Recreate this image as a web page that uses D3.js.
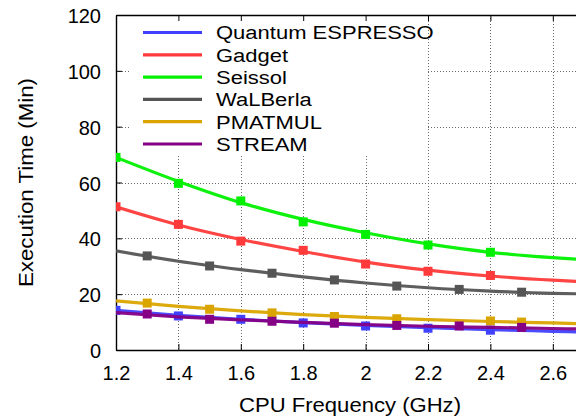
<!DOCTYPE html>
<html>
<head>
<meta charset="utf-8">
<script src="https://cdn.jsdelivr.net/npm/d3@7/dist/d3.min.js"></script>
<style>
  html, body { margin: 0; padding: 0; background: #fff; }
  svg { display: block; }
  text { font-family: "Liberation Sans", Arial, Helvetica, sans-serif; fill: #000; }
</style>
</head>
<body>
<svg id="chart" width="576" height="418"></svg>
<script>
// Axis ticks
const xTicks = [1.2, 1.4, 1.6, 1.8, 2.0, 2.2, 2.4, 2.6];
const yTicks = [0, 20, 40, 60, 80, 100, 120];

// Measured execution times (minutes) per CPU frequency (GHz)
const qeFreq = [1.2, 1.4, 1.6, 1.8, 2.0, 2.2, 2.4];
const qeTime = [14.2, 12.2, 11.0, 9.7, 8.6, 7.8, 7.1];

const gadgetFreq = [1.2, 1.4, 1.6, 1.8, 2.0, 2.2, 2.4];
const gadgetTime = [51.3, 45.0, 39.0, 35.7, 30.8, 28.2, 26.7];

const seissolFreq = [1.2, 1.4, 1.6, 1.8, 2.0, 2.2, 2.4];
const seissolTime = [69.0, 59.7, 53.4, 45.9, 41.4, 37.6, 35.0];

const walberlaFreq = [1.3, 1.5, 1.7, 1.9, 2.1, 2.3, 2.5];
const walberlaTime = [33.7, 30.1, 27.5, 25.1, 22.9, 21.7, 20.7];

const pmatmulFreq = [1.3, 1.5, 1.7, 1.9, 2.1, 2.4, 2.5];
const pmatmulTime = [16.8, 14.6, 13.3, 12.0, 11.2, 10.4, 10.0];

const streamFreq = [1.3, 1.5, 1.7, 1.9, 2.1, 2.3, 2.5];
const streamTime = [12.9, 11.0, 10.3, 9.6, 8.8, 8.6, 8.1];

// Fitted curves: frequency samples and fitted times
const fitFreq = [1.2, 1.4, 1.6, 1.8, 2.0, 2.2, 2.4, 2.6, 2.7];
const qeFit       = [14.2, 12.4, 11.0, 9.8, 8.8, 8.0, 7.3, 6.7, 6.4];
const gadgetFit   = [51.3, 44.8, 39.6, 35.3, 31.5, 28.6, 26.5, 25.0, 24.4];
const seissolFit  = [69.0, 60.4, 52.8, 46.8, 42.0, 38.0, 35.0, 33.1, 32.4];
const walberlaFit = [35.5, 31.8, 28.8, 26.2, 24.0, 22.3, 21.1, 20.3, 20.1];
const pmatmulFit  = [17.6, 15.6, 14.0, 12.7, 11.7, 10.9, 10.2, 9.7, 9.4];
const streamFit   = [13.4, 11.9, 10.8, 9.9, 9.1, 8.5, 8.1, 7.7, 7.5];

const seriesNames  = ["Quantum ESPRESSO", "Gadget", "Seissol", "WaLBerla", "PMATMUL", "STREAM"];
const seriesColors = ["#4040ff", "#ff3a3a", "#00f000", "#555555", "#daa500", "#850085"];

const series = [
  { freq: qeFreq, time: qeTime, fit: qeFit },
  { freq: gadgetFreq, time: gadgetTime, fit: gadgetFit },
  { freq: seissolFreq, time: seissolTime, fit: seissolFit },
  { freq: walberlaFreq, time: walberlaTime, fit: walberlaFit },
  { freq: pmatmulFreq, time: pmatmulTime, fit: pmatmulFit },
  { freq: streamFreq, time: streamTime, fit: streamFit }
].map((s, i) => ({ ...s, name: seriesNames[i], color: seriesColors[i] }));

const svg = d3.select("#chart");
const pLeft = 116, pRight = 584, pTop = 15, pBottom = 350;

const x = d3.scaleLinear().domain([1.2, 2.7]).range([pLeft, pRight]);
const y = d3.scaleLinear().domain([0, 120]).range([pBottom, pTop]);

svg.append("defs").append("clipPath").attr("id", "plotclip")
  .append("rect").attr("x", pLeft).attr("y", pTop).attr("width", pRight - pLeft).attr("height", pBottom - pTop);

// Dotted grid
const grid = svg.append("g").attr("stroke", "#6a6a6a").attr("stroke-width", 1)
  .attr("stroke-dasharray", "1,2").attr("fill", "none");
xTicks.slice(1).forEach(t => {
  grid.append("line").attr("x1", Math.round(x(t)) + 0.5).attr("x2", Math.round(x(t)) + 0.5)
    .attr("y1", pTop).attr("y2", pBottom);
});
yTicks.slice(1, -1).forEach(t => {
  grid.append("line").attr("x1", pLeft).attr("x2", pRight)
    .attr("y1", Math.round(y(t)) + 0.5).attr("y2", Math.round(y(t)) + 0.5);
});

// Opaque key background
svg.append("rect").attr("x", 130).attr("y", pTop + 1).attr("width", 297).attr("height", 139)
  .attr("fill", "#fff");

// Axes drawn with inward ticks
const tickLen = 6;
const xAxisB = d3.axisBottom(x).tickValues(xTicks).tickSizeInner(-tickLen).tickSizeOuter(0)
  .tickPadding(16).tickFormat(d3.format("~g"));
const gx = svg.append("g").attr("transform", `translate(0,${pBottom})`).call(xAxisB);
const xAxisT = d3.axisTop(x).tickValues(xTicks).tickSizeInner(-tickLen).tickSizeOuter(0).tickFormat("");
const gxt = svg.append("g").attr("transform", `translate(0,${pTop})`).call(xAxisT);
const yAxisL = d3.axisLeft(y).tickValues(yTicks).tickSizeInner(-tickLen).tickSizeOuter(0).tickPadding(15);
const gy = svg.append("g").attr("transform", `translate(${pLeft},0)`).call(yAxisL);

[gx, gxt, gy].forEach(g => {
  g.select(".domain").attr("stroke", "#000").attr("stroke-width", 1.4);
  g.selectAll(".tick line").attr("stroke", "#000").attr("stroke-width", 1);
  g.selectAll("text").attr("font-size", 20).attr("font-family", "Liberation Sans, Arial, sans-serif")
    .attr("fill", "#000");
});
gy.selectAll(".tick text").attr("dy", "0.38em");
gx.selectAll(".tick text").attr("dy", "0.71em");

// Axis titles
svg.append("text").attr("x", (pLeft + pRight) / 2).attr("y", 412)
  .attr("text-anchor", "middle").attr("font-size", 21)
  .attr("textLength", 222).attr("lengthAdjust", "spacingAndGlyphs")
  .text("CPU Frequency (GHz)");
svg.append("text").attr("transform", `translate(33,${(pTop + pBottom) / 2}) rotate(-90)`)
  .attr("text-anchor", "middle").attr("font-size", 21)
  .attr("textLength", 209).attr("lengthAdjust", "spacingAndGlyphs")
  .text("Execution Time (Min)");

// Curves and markers
const plot = svg.append("g").attr("clip-path", "url(#plotclip)");
const line = d3.line().x(d => x(d[0])).y(d => y(d[1])).curve(d3.curveMonotoneX);

const drawOrder = [2, 1, 3, 4, 0, 5];
drawOrder.forEach(i => {
  const s = series[i];
  plot.append("path").datum(fitFreq.map((f, k) => [f, s.fit[k]]))
    .attr("d", line).attr("fill", "none").attr("stroke", s.color)
    .attr("stroke-width", 3.2).attr("stroke-linejoin", "round").attr("stroke-opacity", 0.95);
  const m = 9;
  plot.selectAll(null).data(s.freq.map((f, k) => [f, s.time[k]])).enter()
    .append("rect")
    .attr("x", d => x(d[0]) - m / 2).attr("y", d => y(d[1]) - m / 2)
    .attr("width", m).attr("height", m).attr("fill", s.color);
});

// Key: compact line height, glyphs widened to the wide key face
const key = svg.append("g");
series.forEach((s, i) => {
  const ry = 32.5 + i * 22.3;
  key.append("line").attr("x1", 143).attr("x2", 202).attr("y1", ry).attr("y2", ry)
    .attr("stroke", s.color).attr("stroke-width", 3.2);
  const t = key.append("text").attr("x", 216).attr("y", ry).attr("dy", "0.36em")
    .attr("font-size", 22).text(s.name);
  const w = t.node().getComputedTextLength();
  t.attr("font-size", 19.2).attr("textLength", w).attr("lengthAdjust", "spacingAndGlyphs");
});
</script>
</body>
</html>
